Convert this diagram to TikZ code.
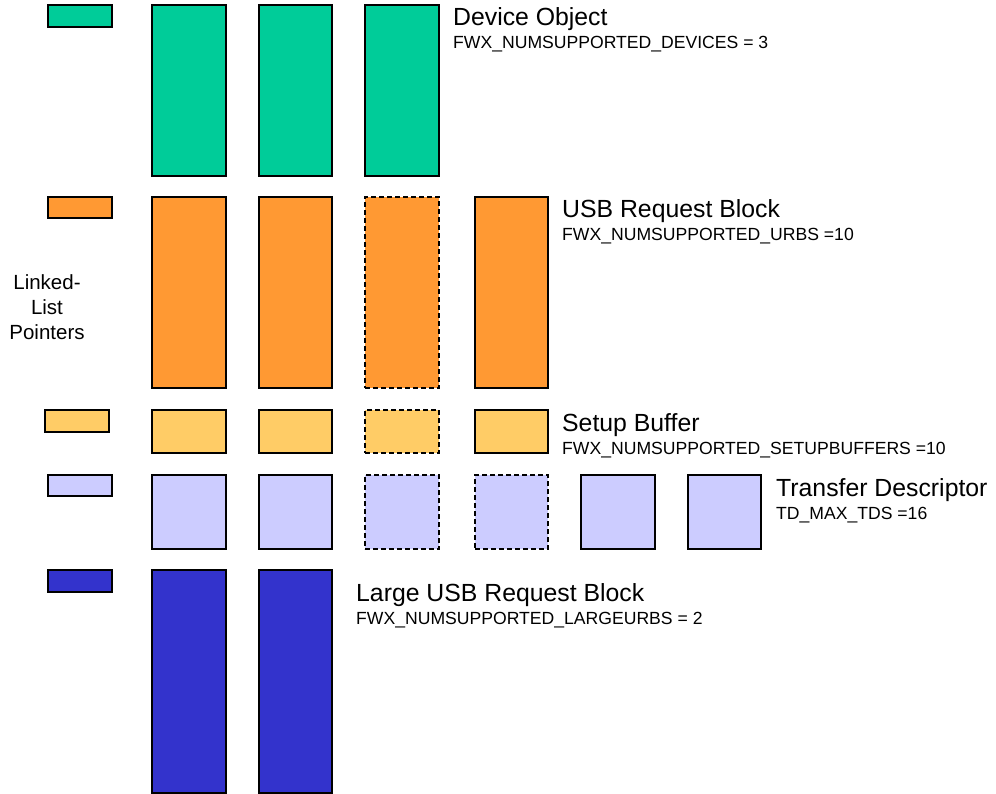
\documentclass[tikz,border=0pt]{standalone}
\usepackage{fontspec}
\setmainfont{Liberation Sans}
\definecolor{devgreen}{HTML}{00CC99}
\definecolor{urborange}{HTML}{FF9933}
\definecolor{setupyellow}{HTML}{FFCC66}
\definecolor{tdlilac}{HTML}{CCCCFF}
\definecolor{largeblue}{HTML}{3333CC}
\tikzset{
  blk/.style={draw=black, line width=1.2pt, inner sep=0pt, outer sep=0pt},
  unused/.style={dash pattern=on 5pt off 3pt, line width=1.5pt},
  title/.style={anchor=base west, inner sep=0pt, font=\fontsize{24.8}{28}\selectfont},
  sub/.style={anchor=base west, inner sep=0pt, font=\fontsize{17.6}{20}\selectfont},
  caption/.style={anchor=base, inner sep=0pt, font=\fontsize{20.5}{24}\selectfont},
}
% box from left/top corner (x1,y1) to (x2,y2), given in pixel units
\newcommand{\memblock}[6]{%
  \node[blk, #6, minimum width=#4-#2, minimum height=#5-#3, anchor=north west] (#1) at (#2,#3) {};}
\begin{document}
\begin{tikzpicture}[x=1pt, y=-1pt]
\useasboundingbox (0,0) rectangle (996,794);

% column edges
\def\ca{152}\def\cb{226}
\def\cc{259}\def\cd{332}
\def\ce{365}\def\cf{439}
\def\cg{475}\def\ch{548}
\def\ci{581}\def\cj{655}
\def\ck{688}\def\cl{761}

% device objects
\memblock{devp}{48}{5}{112}{27}{fill=devgreen}
\memblock{dev1}{\ca}{5}{\cb}{176}{fill=devgreen}
\memblock{dev2}{\cc}{5}{\cd}{176}{fill=devgreen}
\memblock{dev3}{\ce}{5}{\cf}{176}{fill=devgreen}
\node[title] (devt) at (453,26) {Device Object};
\node[sub] (devs) at (453,49) {FWX\_NUMSUPPORTED\_DEVICES = 3};

% USB request blocks
\memblock{urbp}{48}{197}{112}{218}{fill=urborange}
\memblock{urb1}{\ca}{197}{\cb}{388}{fill=urborange}
\memblock{urb2}{\cc}{197}{\cd}{388}{fill=urborange}
\memblock{urb3}{\ce}{197}{\cf}{388}{fill=urborange, unused}
\memblock{urb4}{\cg}{197}{\ch}{388}{fill=urborange}
\node[title] (urbt) at (562,218) {USB Request Block};
\node[sub] (urbs) at (562,241) {FWX\_NUMSUPPORTED\_URBS =10};

% setup buffers
\memblock{setp}{45}{410}{109}{432}{fill=setupyellow}
\memblock{set1}{\ca}{410}{\cb}{453}{fill=setupyellow}
\memblock{set2}{\cc}{410}{\cd}{453}{fill=setupyellow}
\memblock{set3}{\ce}{410}{\cf}{453}{fill=setupyellow, unused}
\memblock{set4}{\cg}{410}{\ch}{453}{fill=setupyellow}
\node[title] (sett) at (562,431) {Setup Buffer};
\node[sub] (sets) at (562,454) {FWX\_NUMSUPPORTED\_SETUPBUFFERS =10};

% transfer descriptors
\memblock{tdp}{48}{475}{112}{496}{fill=tdlilac}
\memblock{td1}{\ca}{475}{\cb}{549}{fill=tdlilac}
\memblock{td2}{\cc}{475}{\cd}{549}{fill=tdlilac}
\memblock{td3}{\ce}{475}{\cf}{549}{fill=tdlilac, unused}
\memblock{td4}{\cg}{475}{\ch}{549}{fill=tdlilac, unused}
\memblock{td5}{\ci}{475}{\cj}{549}{fill=tdlilac}
\memblock{td6}{\ck}{475}{\cl}{549}{fill=tdlilac}
\node[title] (tdt) at (776,496) {Transfer Descriptor};
\node[sub] (tds) at (776,519) {TD\_MAX\_TDS =16};

% large USB request blocks
\memblock{lrgp}{48}{570}{112}{592}{fill=largeblue}
\memblock{lrg1}{\ca}{570}{\cb}{793}{fill=largeblue}
\memblock{lrg2}{\cc}{570}{\cd}{793}{fill=largeblue}
\node[title] (lrgt) at (356,601) {Large USB Request Block};
\node[sub] (lrgs) at (356,624) {FWX\_NUMSUPPORTED\_LARGEURBS = 2};

% caption for the pointer column
\node[caption] (ptra) at (47,290) {Linked-};
\node[caption] (ptrb) at (47,315) {List};
\node[caption] (ptrc) at (47,340) {Pointers};
\end{tikzpicture}
\end{document}
